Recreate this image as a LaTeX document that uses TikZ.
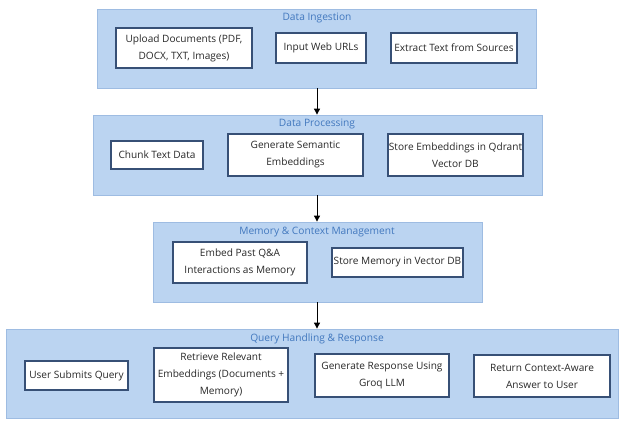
\documentclass[tikz,border=0pt]{standalone}
\usepackage{fontspec}
\setmainfont{Open Sans}
\usetikzlibrary{arrows.meta}
\definecolor{clfill}{RGB}{187,212,241}
\definecolor{cldraw}{RGB}{158,188,226}
\definecolor{ttl}{RGB}{66,120,190}
\definecolor{bxdraw}{RGB}{55,80,118}
\definecolor{txt}{RGB}{40,40,40}
\tikzset{
  cluster/.style={draw=cldraw, fill=clfill, line width=0.8pt, inner sep=0pt},
  ctitle/.style={text=ttl, font=\fontsize{10.2}{12}\selectfont, inner sep=0pt},
  stepbox/.style={draw=bxdraw, fill=white, line width=1.4pt, inner sep=0pt,
    align=center, text=txt, font=\fontsize{10.1}{17}\selectfont},
  arr/.style={-{Triangle[length=6pt,width=6pt]}, line width=0.9pt, black}
}
\begin{document}
\begin{tikzpicture}[x=1pt,y=-1pt]
\useasboundingbox (0,0) rectangle (622,421);
% clusters
\node[cluster, minimum width=439pt, minimum height=79pt] (c1) at (316.5,48.5) {};
\node[cluster, minimum width=449pt, minimum height=80pt] (c2) at (317.5,155) {};
\node[cluster, minimum width=329pt, minimum height=80pt] (c3) at (317.5,262) {};
\node[cluster, minimum width=612pt, minimum height=89pt] (c4) at (312,373.5) {};
% titles
\node[ctitle] (t1) at (317,18) {Data Ingestion};
\node[ctitle] (t2) at (317,124) {Data Processing};
\node[ctitle] (t3) at (317,232) {Memory \& Context Management};
\node[ctitle] (t4) at (317,339) {Query Handling \& Response};
% cluster 1
\node[stepbox, minimum width=136pt, minimum height=40pt] (up) at (184,48) {Upload Documents (PDF,\\DOCX, TXT, Images)};
\node[stepbox, minimum width=90pt, minimum height=30pt] (web) at (321,48) {Input Web URLs};
\node[stepbox, minimum width=126pt, minimum height=30pt] (ext) at (454,48) {Extract Text from Sources};
% cluster 2
\node[stepbox, minimum width=92pt, minimum height=28pt] (chunk) at (157,155) {Chunk Text Data};
\node[stepbox, minimum width=135pt, minimum height=42pt] (gen) at (295.5,155) {Generate Semantic\\Embeddings};
\node[stepbox, minimum width=135pt, minimum height=42pt] (sq) at (455.5,155) {Store Embeddings in Qdrant\\Vector DB};
% cluster 3
\node[stepbox, minimum width=134pt, minimum height=41pt] (emb) at (240,262.5) {Embed Past Q\&A\\Interactions as Memory};
\node[stepbox, minimum width=131pt, minimum height=29pt] (smem) at (397.5,262.5) {Store Memory in Vector DB};
% cluster 4
\node[stepbox, minimum width=103pt, minimum height=29pt] (user) at (76.5,375.5) {User Submits Query};
\node[stepbox, minimum width=134pt, minimum height=54pt] (ret) at (221,375) {Retrieve Relevant\\Embeddings (Documents +\\Memory)};
\node[stepbox, minimum width=134pt, minimum height=43pt] (gresp) at (382,375.5) {Generate Response Using\\Groq LLM};
\node[stepbox, minimum width=136pt, minimum height=42pt] (retans) at (542,376) {Return Context-Aware\\Answer to User};
% arrows
\draw[arr] (t1 |- c1.south) -- (t1 |- c2.north);
\draw[arr] (t1 |- c2.south) -- (t1 |- c3.north);
\draw[arr] (t1 |- c3.south) -- (t1 |- c4.north);
\end{tikzpicture}
\end{document}
